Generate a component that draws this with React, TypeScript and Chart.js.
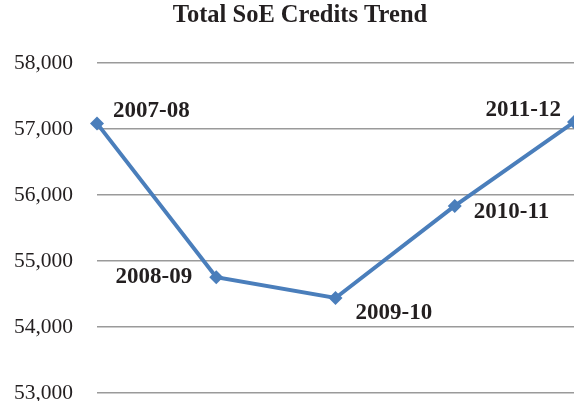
import React, { useEffect, useRef } from "react";
import { Chart, registerables } from "chart.js";

Chart.register(...registerables);

const chartTitle = "Total SoE Credits Trend";
const categories = ["2007-08", "2008-09", "2009-10", "2010-11", "2011-12"];
const credits = [57085, 54755, 54440, 55835, 57105];
const yMin = 53000;
const yMax = 58000;
const yStep = 1000;

const labelPlacement = [
  { align: "left", dx: 16, dy: -12 },
  { align: "right", dx: -24, dy: 0 },
  { align: "left", dx: 20, dy: 15 },
  { align: "left", dx: 19, dy: 6 },
  { align: "right", dx: -13, dy: -12 },
];

const FONT = "'Liberation Serif', 'Times New Roman', serif";
const TEXT = "#231f20";

const pointLabelPlugin = {
  id: "pointLabels",
  afterDatasetsDraw(chart: any) {
    const ctx = chart.ctx;
    const meta = chart.getDatasetMeta(0);
    ctx.save();
    ctx.font = `bold 23px ${FONT}`;
    ctx.fillStyle = TEXT;
    ctx.textBaseline = "middle";
    meta.data.forEach((pt: any, i: number) => {
      const p = labelPlacement[i];
      ctx.textAlign = p.align;
      ctx.fillText(chart.data.labels[i], pt.x + p.dx, pt.y + p.dy);
    });
    ctx.restore();
  },
};

// The reference chart is cropped on the right, so its title sits right of the visible centre.
const offsetTitlePlugin = {
  id: "offsetTitle",
  afterDraw(chart: any) {
    const ctx = chart.ctx;
    ctx.save();
    ctx.font = `bold 24.5px ${FONT}`;
    ctx.fillStyle = TEXT;
    ctx.textAlign = "center";
    ctx.textBaseline = "middle";
    ctx.fillText(chartTitle, chart.width / 2 + 13, 16);
    ctx.restore();
  },
};

export default function App() {
  const ref = useRef<HTMLCanvasElement | null>(null);
  useEffect(() => {
    if (!ref.current) return;
    const chart = new Chart(ref.current, {
      type: "line",
      data: {
        labels: categories,
        datasets: [
          {
            label: chartTitle,
            data: credits,
            borderColor: "#4a7ebb",
            backgroundColor: "#4a7ebb",
            borderWidth: 4,
            pointStyle: "rectRot",
            pointRadius: 7,
            pointBorderWidth: 0,
            tension: 0,
            clip: false,
          },
        ],
      },
      options: {
        animation: false,
        responsive: true,
        maintainAspectRatio: false,
        layout: { autoPadding: false, padding: { left: 0, right: -2, top: 63, bottom: 0 } },
        plugins: {
          legend: { display: false },
          tooltip: { enabled: false },
          title: { display: false },
        },
        scales: {
          x: {
            type: "category",
            display: false,
            offset: false,
            ticks: { display: false },
            afterFit: (scale: any) => {
              scale.paddingLeft = 0;
              scale.paddingRight = 0;
            },
          },
          y: {
            min: yMin,
            max: yMax,
            border: { display: false },
            grid: { color: "#9a9a9a", lineWidth: 1.5, drawTicks: false },
            ticks: {
              stepSize: yStep,
              padding: 24,
              color: TEXT,
              font: { family: FONT, size: 21.5 },
              callback: (v: any) => Number(v).toLocaleString("en-US"),
            },
            afterFit: (scale: any) => {
              scale.width = 97;
              scale.paddingTop = 0;
              scale.paddingBottom = 8;
            },
          },
        },
      },
      plugins: [pointLabelPlugin, offsetTitlePlugin],
    });
    return () => chart.destroy();
  }, []);
  return (
    <div style={{ position: "absolute", left: 0, top: 0, width: 574, height: 401 }}>
      <canvas ref={ref} />
    </div>
  );
}
